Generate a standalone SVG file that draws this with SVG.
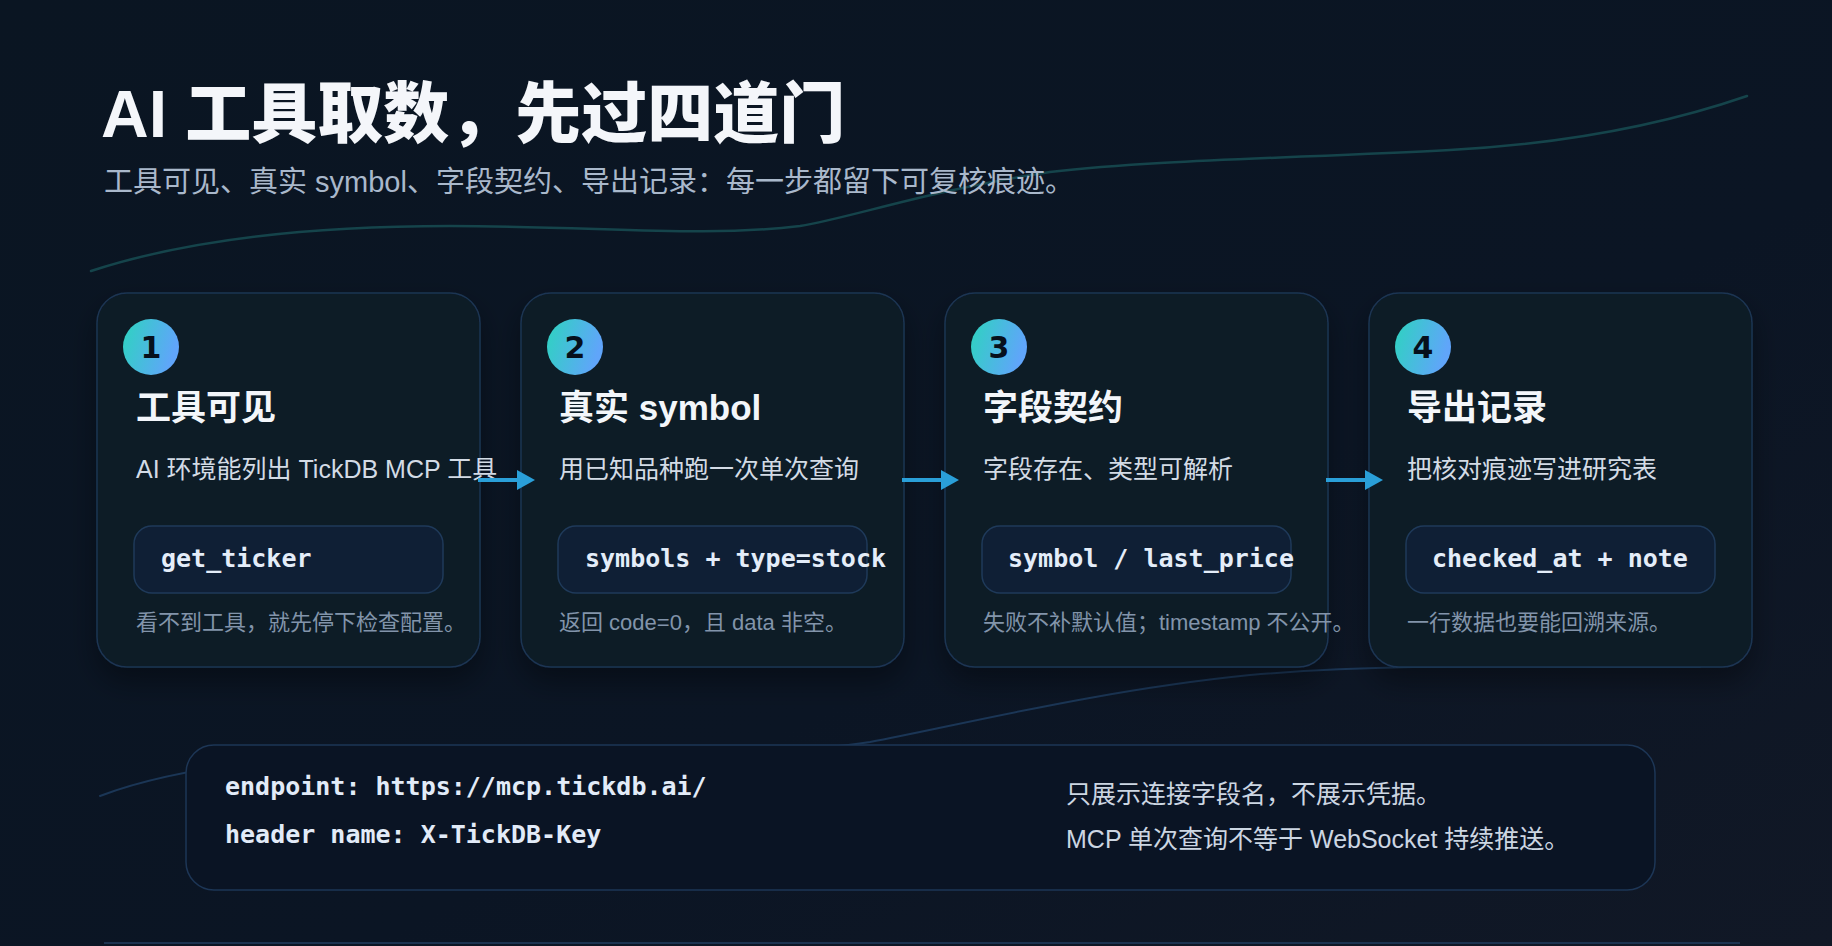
<svg xmlns="http://www.w3.org/2000/svg" width="1832" height="946" viewBox="0 0 1832 946">
  <defs>
    <linearGradient id="bg" x1="0" y1="0" x2="1" y2="1">
      <stop offset="0" stop-color="#0a1522"/>
      <stop offset="0.6" stop-color="#0b1524"/>
      <stop offset="1" stop-color="#111826"/>
    </linearGradient>
    <linearGradient id="badge" x1="0" y1="0" x2="1" y2="0.3">
      <stop offset="0" stop-color="#2dd4bf"/>
      <stop offset="1" stop-color="#60a5fa"/>
    </linearGradient>
    <filter id="shadow" x="-20%" y="-20%" width="140%" height="150%">
      <feDropShadow dx="0" dy="14" stdDeviation="14" flood-color="#000" flood-opacity="0.35"/>
    </filter>
    <marker id="ah" viewBox="0 0 18 20" refX="0" refY="10" markerWidth="18" markerHeight="20" markerUnits="userSpaceOnUse" orient="auto">
      <path d="M0,0 L18,10 L0,20 z" fill="#2a9fd8"/>
    </marker>
    <style>
      .sans { font-family: "Liberation Sans", "Noto Sans CJK SC", sans-serif; }
      .mono { font-family: "DejaVu Sans Mono", "Liberation Mono", monospace; font-weight: 700; }
      .card { fill: #0d1a28; stroke: #1c3552; stroke-width: 1.5; }
      .code { fill: #0f1f35; stroke: #1f3a5a; stroke-width: 1.5; }
      .badge { fill: url(#badge); }
      .num { font-family: "DejaVu Sans", sans-serif; font-weight: 700; font-size: 30px; fill: #06101c; text-anchor: middle; }
      .ttl { font-size: 35px; font-weight: 700; fill: #f3f6fa; }
      .desc { font-size: 25px; fill: #d3dbe5; }
      .codetxt { font-size: 25px; fill: #e4edf9; }
      .foot { font-size: 22px; fill: #8294aa; }
      .arrow { stroke: #2a9fd8; stroke-width: 4; fill: none; marker-end: url(#ah); }
    </style>
  </defs>

  <rect x="0" y="0" width="1832" height="946" fill="url(#bg)"/>

  <g id="decor">
    <path d="M91,271 C180,242 300,226 450,226 C600,226 700,238 800,226 C850,218 930,190 1050,172 C1150,160 1300,158 1450,150 C1560,144 1660,126 1747,96" fill="none" stroke="#15444b" stroke-width="2.5" stroke-linecap="round"/>
    <path d="M100,796 C300,720 700,770 870,742 C960,725 1100,690 1250,675 C1400,662 1550,668 1700,667" fill="none" stroke="#1b3656" stroke-width="2" stroke-linecap="round"/>
  </g>

  <g id="header" class="sans">
    <text x="101" y="137" font-size="66" font-weight="900" fill="#f4f6fa">AI 工具取数，先过四道门</text>
    <text x="104" y="192" font-size="29" fill="#a9b8cb">工具可见、真实 symbol、字段契约、导出记录：每一步都留下可复核痕迹。</text>
  </g>

  <g id="step1" class="sans">
    <rect class="card" x="97" y="293" width="383" height="374" rx="30" filter="url(#shadow)"/>
    <circle class="badge" cx="151" cy="347" r="28"/>
    <text class="num" x="151" y="358">1</text>
    <text class="ttl" x="136" y="420">工具可见</text>
    <text class="desc" x="136" y="478">AI 环境能列出 TickDB MCP 工具</text>
    <rect class="code" x="134" y="526" width="309" height="67" rx="18"/>
    <text class="mono codetxt" x="161" y="567">get_ticker</text>
    <text class="foot" x="136" y="630">看不到工具，就先停下检查配置。</text>
  </g>

  <g id="step2" class="sans">
    <rect class="card" x="521" y="293" width="383" height="374" rx="30" filter="url(#shadow)"/>
    <circle class="badge" cx="575" cy="347" r="28"/>
    <text class="num" x="575" y="358">2</text>
    <text class="ttl" x="559" y="420">真实 symbol</text>
    <text class="desc" x="559" y="478">用已知品种跑一次单次查询</text>
    <rect class="code" x="558" y="526" width="309" height="67" rx="18"/>
    <text class="mono codetxt" x="585" y="567">symbols + type=stock</text>
    <text class="foot" x="559" y="630">返回 code=0，且 data 非空。</text>
  </g>

  <g id="step3" class="sans">
    <rect class="card" x="945" y="293" width="383" height="374" rx="30" filter="url(#shadow)"/>
    <circle class="badge" cx="999" cy="347" r="28"/>
    <text class="num" x="999" y="358">3</text>
    <text class="ttl" x="983" y="420">字段契约</text>
    <text class="desc" x="983" y="478">字段存在、类型可解析</text>
    <rect class="code" x="982" y="526" width="309" height="67" rx="18"/>
    <text class="mono codetxt" x="1008" y="567">symbol / last_price</text>
    <text class="foot" x="983" y="630">失败不补默认值；timestamp 不公开。</text>
  </g>

  <g id="step4" class="sans">
    <rect class="card" x="1369" y="293" width="383" height="374" rx="30" filter="url(#shadow)"/>
    <circle class="badge" cx="1423" cy="347" r="28"/>
    <text class="num" x="1423" y="358">4</text>
    <text class="ttl" x="1407" y="420">导出记录</text>
    <text class="desc" x="1407" y="478">把核对痕迹写进研究表</text>
    <rect class="code" x="1406" y="526" width="309" height="67" rx="18"/>
    <text class="mono codetxt" x="1432" y="567">checked_at + note</text>
    <text class="foot" x="1407" y="630">一行数据也要能回溯来源。</text>
  </g>

  <g id="connectors">
    <line class="arrow" x1="478" y1="480" x2="517" y2="480"/>
    <line class="arrow" x1="902" y1="480" x2="941" y2="480"/>
    <line class="arrow" x1="1326" y1="480" x2="1365" y2="480"/>
  </g>

  <g id="config" class="sans">
    <rect x="186" y="745" width="1469" height="145" rx="28" fill="#0a1424" stroke="#1d3656" stroke-width="1.5"/>
    <text class="mono" x="225" y="795" font-size="25" fill="#e2ebf8">endpoint: https://mcp.tickdb.ai/</text>
    <text class="mono" x="225" y="843" font-size="25" fill="#e2ebf8">header name: X-TickDB-Key</text>
    <text x="1066" y="803" font-size="25" fill="#ccd6e2">只展示连接字段名，不展示凭据。</text>
    <text x="1066" y="848" font-size="25" fill="#ccd6e2">MCP 单次查询不等于 WebSocket 持续推送。</text>
  </g>

  <line id="baseline" x1="104" y1="943" x2="1740" y2="943" stroke="#1c3350" stroke-width="2"/>
</svg>
